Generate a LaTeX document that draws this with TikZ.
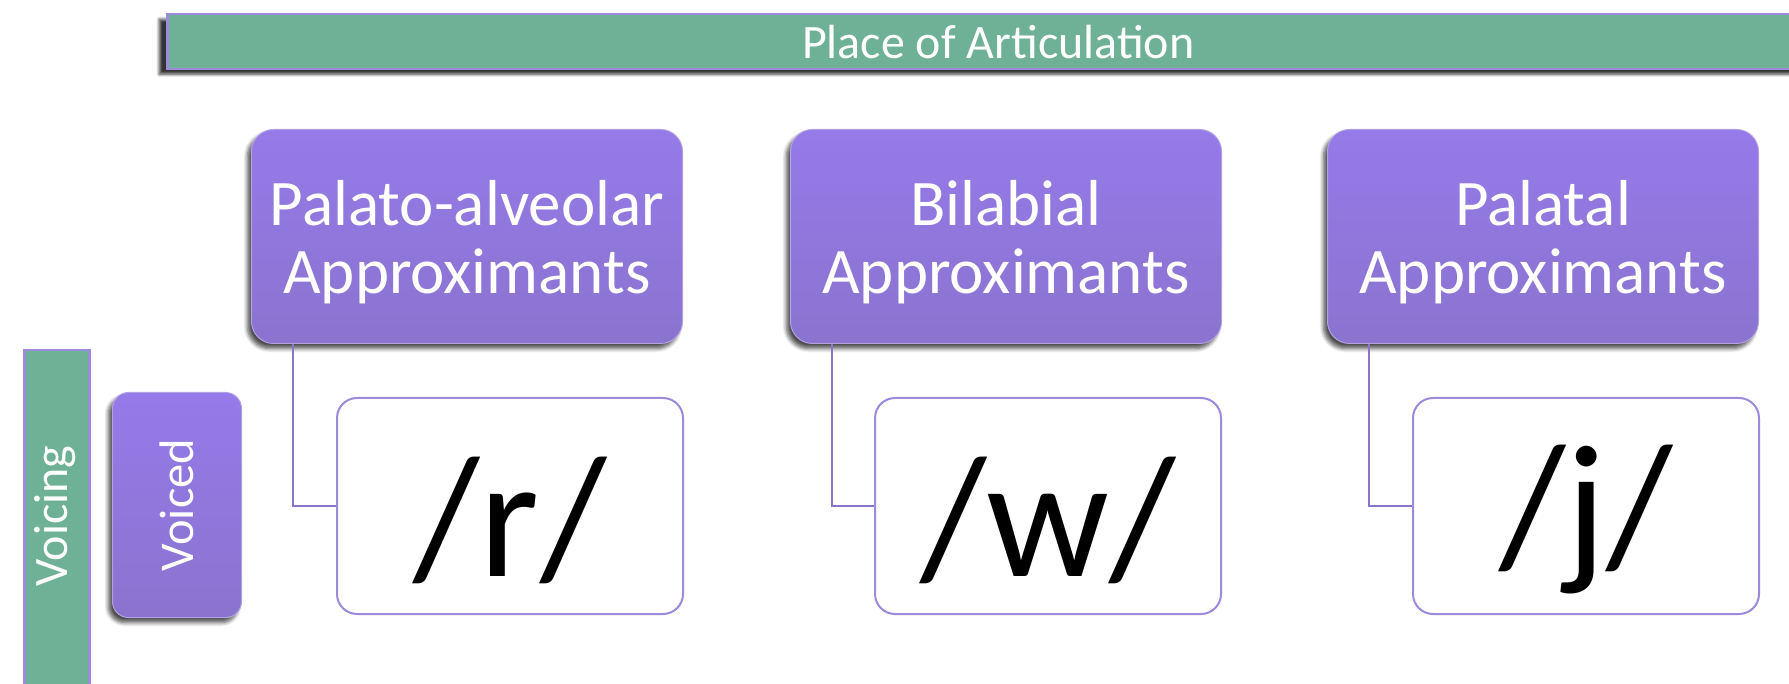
\documentclass[tikz,border=0pt]{standalone}
\usepackage{fontspec}
\setmainfont{Carlito}
\usetikzlibrary{shadows,shadows.blur}
\definecolor{gbar}{HTML}{6FB196}
\definecolor{ptop}{HTML}{957AE9}
\definecolor{pbot}{HTML}{8A74CF}
\definecolor{pborder}{HTML}{9D8ADB}
\definecolor{pline}{HTML}{8B74C9}
\begin{document}
\begin{tikzpicture}[x=1pt,y=-1pt,
  bar/.style={fill=gbar, draw=pborder, line width=2.5pt, text=white, inner sep=0pt},
  catbox/.style={rounded corners=22pt, top color=ptop, bottom color=pbot, draw=pborder!80!white, line width=1pt,
    text=white, align=center, inner sep=0pt, anchor=north west,
    blur shadow={shadow xshift=-4pt, shadow yshift=-5pt, shadow opacity=70, shadow blur steps=6, shadow blur radius=4pt}},
  cattext/.style={text=white, align=center, inner sep=0pt, font=\fontsize{65}{68}\selectfont},
  itembox/.style={rounded corners=20pt, fill=white, draw=pborder, line width=2pt, inner sep=0pt, anchor=north west,
    minimum width=346pt, minimum height=216pt},
  itemtext/.style={inner sep=0pt, font=\fontsize{172}{172}\selectfont},
  conn/.style={draw=pline, line width=1.8pt},
]
\useasboundingbox (0,0) rectangle (1789,684);
\clip (0,0) rectangle (1789,684);
% top bar
\node[bar, blur shadow={shadow xshift=-8pt, shadow yshift=-5pt, shadow opacity=80, shadow blur steps=6, shadow blur radius=3pt},
  minimum width=1662pt, minimum height=55pt, anchor=north west, font=\fontsize{48}{48}\selectfont]
  (poa) at (166,13) {Place of Articulation};
% voicing bar
\node[bar, minimum width=65pt, minimum height=340pt, anchor=north west]
  (vbar) at (23,349) {};
\node[text=white, rotate=90, font=\fontsize{48}{48}\selectfont] (vlab) at (55.5,516) {Voicing};
% voiced box
\node[catbox, rounded corners=16pt, minimum width=129pt, minimum height=225pt]
  (voiced) at (112,392) {};
\node[text=white, rotate=90, font=\fontsize{48.5}{48.5}\selectfont] (vdlab) at (voiced.center) {Voiced};
% categories
\node[catbox, minimum width=431pt, minimum height=214pt] (pa) at (251,129) {};
\node[catbox, minimum width=431pt, minimum height=214pt] (bi) at (790,129) {};
\node[catbox, minimum width=431pt, minimum height=214pt] (pl) at (1327,129) {};
\node[cattext] (patx) at ([yshift=-6pt]pa.center) {Palato-alveolar\\Approximants};
\node[cattext] (bitx) at ([yshift=-6pt]bi.center) {Bilabial\\Approximants};
\node[cattext] (pltx) at ([yshift=-6pt]pl.center) {Palatal\\Approximants};
% items
\node[itembox] (r) at (336,397) {};
\node[itembox] (w) at (874,397) {};
\node[itembox] (j) at (1412,397) {};
\node[itemtext] (rtx) at ([yshift=-14pt]r.center) {/r/};
\node[itemtext] (wtx) at ([yshift=-14pt]w.center) {/w/};
\node[itemtext] (jtx) at ([yshift=-14pt]j.center) {/j/};
% connectors
\draw[conn] ([xshift=42pt]pa.south west) |- (r.west);
\draw[conn] ([xshift=42pt]bi.south west) |- (w.west);
\draw[conn] ([xshift=42pt]pl.south west) |- (j.west);
\end{tikzpicture}
\end{document}
